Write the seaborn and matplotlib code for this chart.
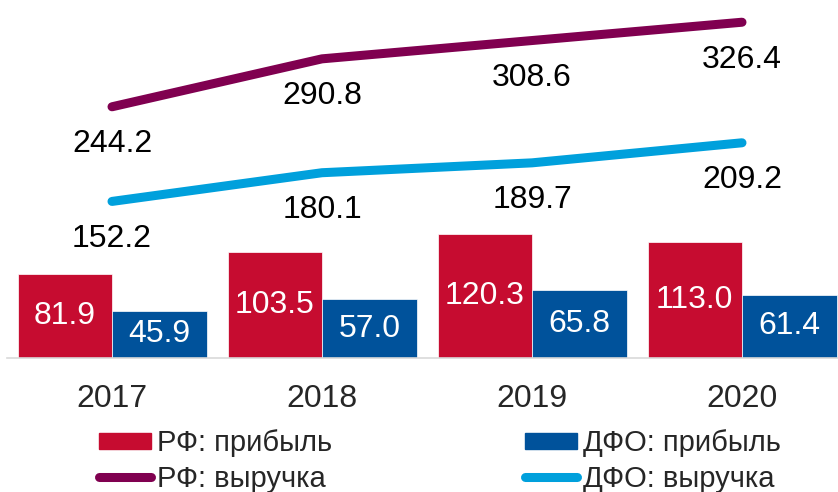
import numpy as np
import pandas as pd
import seaborn as sns
from matplotlib import pyplot as plt

years = ["2017", "2018", "2019", "2020"]
rf_profit = [81.9, 103.5, 120.3, 113.0]
dfo_profit = [45.9, 57.0, 65.8, 61.4]
rf_revenue = [244.2, 290.8, 308.6, 326.4]
dfo_revenue = [152.2, 180.1, 189.7, 209.2]

RED = "#C60C30"
BLUE = "#00529B"
MAROON = "#800050"
SKY = "#00A0DC"

sns.set_theme(style="white")
plt.rcParams["font.family"] = ["Liberation Sans", "DejaVu Sans"]

bars = pd.DataFrame({
    "year": years * 2,
    "value": rf_profit + dfo_profit,
    "series": ["РФ: прибыль"] * 4 + ["ДФО: прибыль"] * 4,
})

fig = plt.figure(figsize=(8.38, 4.92), dpi=100)
ax = fig.add_axes([7 / 838, 134 / 492, 840 / 838, 358 / 492])

sns.barplot(data=bars, x="year", y="value", hue="series",
            palette=[RED, BLUE], width=0.9, gap=0, saturation=1,
            edgecolor="white", linewidth=0.5, ax=ax, legend=False)

for cont in ax.containers:
    ax.bar_label(cont, fmt="%.1f", label_type="center", color="white", fontsize=23)

# revenue lines share the same scale as the bars
x = np.arange(len(years))
sns.lineplot(x=x, y=rf_revenue, color=MAROON, linewidth=6.5, ax=ax,
             solid_capstyle="round", solid_joinstyle="round")
sns.lineplot(x=x, y=dfo_revenue, color=SKY, linewidth=6.5, ax=ax,
             solid_capstyle="round", solid_joinstyle="round")
for xi, v in zip(x, rf_revenue):
    ax.annotate(f"{v:.1f}", (xi, v), xytext=(0, -27), textcoords="offset points",
                ha="center", va="center", fontsize=23, color="black")
for xi, v in zip(x, dfo_revenue):
    ax.annotate(f"{v:.1f}", (xi, v), xytext=(0, -27), textcoords="offset points",
                ha="center", va="center", fontsize=23, color="black")

ax.set_xlim(-0.5, 3.5)
ax.set_ylim(0, 348)
ax.set_xlabel("")
ax.set_ylabel("")
ax.set_yticks([])
ax.tick_params(axis="x", length=0, pad=19, labelsize=23)
for s in ["top", "right", "left"]:
    ax.spines[s].set_visible(False)
ax.spines["bottom"].set_color("#D9D9D9")
ax.spines["bottom"].set_linewidth(1.2)

handles = [
    plt.Rectangle((0, 0), 1, 1, color=RED),
    plt.Line2D([], [], color=MAROON, linewidth=6.5, solid_capstyle="round"),
    plt.Rectangle((0, 0), 1, 1, color=BLUE),
    plt.Line2D([], [], color=SKY, linewidth=6.5, solid_capstyle="round"),
]
labels = ["РФ: прибыль", "РФ: выручка", "ДФО: прибыль", "ДФО: выручка"]
fig.legend(handles, labels, ncol=2, loc="center left", bbox_to_anchor=(84 / 838, 31 / 492),
           frameon=False, fontsize=21, handlelength=1.8, handleheight=0.5,
           handletextpad=0.2, columnspacing=6.6, labelspacing=0.25, borderpad=0)

fig.savefig("out.png", dpi=100)
